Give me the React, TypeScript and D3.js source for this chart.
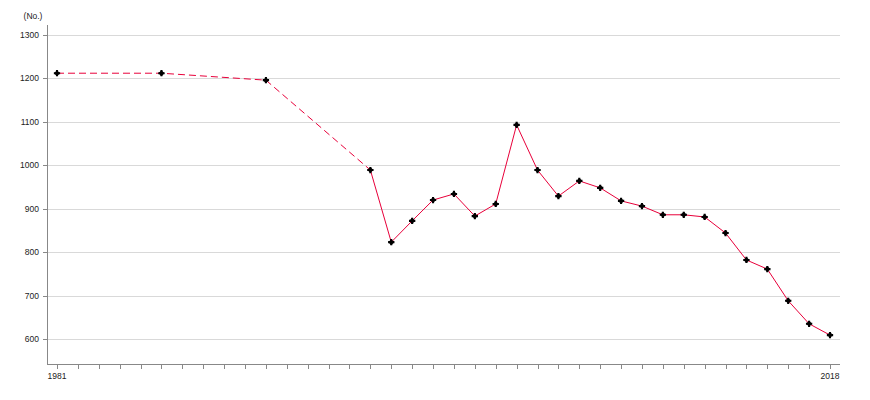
import React from "react";
import * as d3 from "d3";

const years = [1981, 1986, 1991, 1996, 1997, 1998, 1999, 2000, 2001, 2002, 2003, 2004, 2005, 2006, 2007, 2008, 2009, 2010, 2011, 2012, 2013, 2014, 2015, 2016, 2017, 2018];
const values = [1212, 1212, 1196, 989, 823, 872, 920, 934, 883, 911, 1093, 989, 929, 964, 948, 918, 906, 886, 886, 881, 844, 782, 761, 688, 635, 609];
const yTicks = [600, 700, 800, 900, 1000, 1100, 1200, 1300];
const xLabels = [1981, 2018];
const dashedUntil = 1996;

export default function App() {
  const W = 870, H = 400;
  const x = d3.scaleLinear().domain([1981, 2018]).range([57, 830]);
  const y = d3.scaleLinear().domain([600, 1300]).range([339, 35]);
  const axisLeft = 47, axisRight = 840, axisBottom = 364, axisTop = 25;
  const pts = years.map((yr, i) => ({ yr, v: values[i] }));
  const line = d3.line<{ yr: number; v: number }>().x(d => x(d.yr)).y(d => y(d.v));
  const dashedPts = pts.filter(p => p.yr <= dashedUntil);
  const solidPts = pts.filter(p => p.yr >= dashedUntil);
  const allYears = d3.range(1981, 2019);
  const cross = d3.symbol().type(d3.symbolCross).size(22)();
  const square = d3.symbol().type(d3.symbolSquare).size(18)();
  const font = "'Liberation Sans', Arial, sans-serif";
  return (
    <svg width={W} height={H} style={{ position: "absolute", left: 0, top: 0, background: "#fff" }}>
      {yTicks.map(t => (
        <g key={t}>
          <line x1={axisLeft} x2={axisRight} y1={Math.round(y(t)) + 0.5} y2={Math.round(y(t)) + 0.5} stroke="#d9d9d9" />
          <line x1={axisLeft - 4} x2={axisLeft} y1={Math.round(y(t)) + 0.5} y2={Math.round(y(t)) + 0.5} stroke="#888" />
          <text x={39} y={y(t) + 3} textAnchor="end" fontSize={8.5} fontFamily={font} fill="#222">{t}</text>
        </g>
      ))}
      <line x1={axisLeft + 0.5} x2={axisLeft + 0.5} y1={axisTop} y2={axisBottom} stroke="#888" />
      <line x1={axisLeft} x2={axisRight} y1={axisBottom + 0.5} y2={axisBottom + 0.5} stroke="#888" />
      {allYears.map(yr => (
        <line key={yr} x1={Math.round(x(yr)) + 0.5} x2={Math.round(x(yr)) + 0.5} y1={axisBottom} y2={axisBottom + 5} stroke="#888" />
      ))}
      {xLabels.map(yr => (
        <text key={yr} x={x(yr)} y={379} textAnchor="middle" fontSize={8.5} fontFamily={font} fill="#222">{yr}</text>
      ))}
      <text x={33} y={19} textAnchor="middle" fontSize={8.5} fontFamily={font} fill="#222">(No.)</text>
      <path d={line(dashedPts) || ""} fill="none" stroke="#e8003a" strokeWidth={1} strokeDasharray="7,4" />
      <path d={line(solidPts) || ""} fill="none" stroke="#e8003a" strokeWidth={1} />
      {pts.map(p => (
        <g key={p.yr} transform={`translate(${x(p.yr)},${y(p.v)})`} fill="#000">
          <path d={cross} />
          <path d={square} transform="rotate(45)" />
        </g>
      ))}
    </svg>
  );
}
